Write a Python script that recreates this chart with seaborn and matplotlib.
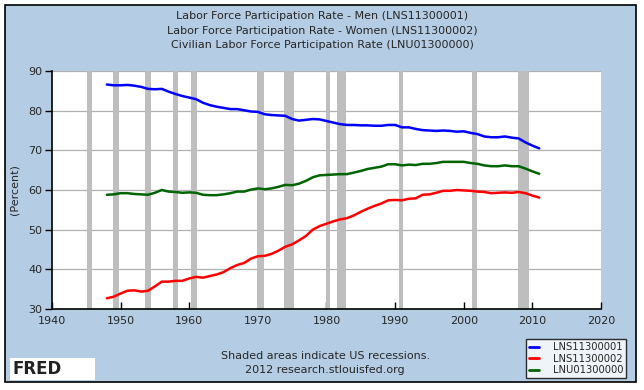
import numpy as np, pandas as pd
import seaborn as sns
import matplotlib.pyplot as plt
from matplotlib.patches import Rectangle
from matplotlib.lines import Line2D

sns.set_style("white")
plt.rcParams['font.family'] = ['DejaVu Sans']

# annual values
years = list(range(1948, 2012))
men = [86.6, 86.4, 86.4, 86.5, 86.3, 86.0, 85.5, 85.4, 85.5, 84.8,
       84.2, 83.7, 83.3, 82.9, 82.0, 81.4, 81.0, 80.7, 80.4, 80.4,
       80.1, 79.8, 79.7, 79.1, 78.9, 78.8, 78.7, 77.9, 77.5, 77.7,
       77.9, 77.8, 77.4, 77.0, 76.6, 76.4, 76.4, 76.3, 76.3, 76.2,
       76.2, 76.4, 76.4, 75.8, 75.8, 75.4, 75.1, 75.0, 74.9, 75.0,
       74.9, 74.7, 74.8, 74.4, 74.1, 73.5, 73.3, 73.3, 73.5, 73.2,
       73.0, 72.0, 71.2, 70.5]
women = [32.7, 33.1, 33.9, 34.6, 34.7, 34.4, 34.6, 35.7, 36.9, 36.9,
         37.1, 37.1, 37.7, 38.1, 37.9, 38.3, 38.7, 39.3, 40.3, 41.1,
         41.6, 42.7, 43.3, 43.4, 43.9, 44.7, 45.7, 46.3, 47.3, 48.4,
         50.0, 50.9, 51.5, 52.1, 52.6, 52.9, 53.6, 54.5, 55.3, 56.0,
         56.6, 57.4, 57.5, 57.4, 57.8, 57.9, 58.8, 58.9, 59.3, 59.8,
         59.8, 60.0, 59.9, 59.8, 59.6, 59.5, 59.2, 59.3, 59.4, 59.3,
         59.5, 59.2, 58.6, 58.1]
total = [58.8, 58.9, 59.2, 59.2, 59.0, 58.9, 58.8, 59.3, 60.0, 59.6,
         59.5, 59.3, 59.4, 59.3, 58.8, 58.7, 58.7, 58.9, 59.2, 59.6,
         59.6, 60.1, 60.4, 60.2, 60.4, 60.8, 61.3, 61.2, 61.6, 62.3,
         63.2, 63.7, 63.8, 63.9, 64.0, 64.0, 64.4, 64.8, 65.3, 65.6,
         65.9, 66.5, 66.5, 66.2, 66.4, 66.3, 66.6, 66.6, 66.8, 67.1,
         67.1, 67.1, 67.1, 66.8, 66.6, 66.2, 66.0, 66.0, 66.2, 66.0,
         66.0, 65.4, 64.7, 64.1]

series_names = ["LNS11300001", "LNS11300002", "LNU01300000"]
series_colors = ["#0000ff", "#ff0000", "#006400"]

# US recessions (start, end) as decimal years
rec_start = [1945.1, 1948.85, 1953.5, 1957.6, 1960.25, 1969.9, 1973.85, 1980.0, 1981.5, 1990.5, 2001.2, 2007.9]
rec_end = [1945.8, 1949.8, 1954.4, 1958.3, 1961.1, 1970.9, 1975.2, 1980.55, 1982.9, 1991.2, 2001.9, 2009.5]

df = pd.DataFrame({"year": years, series_names[0]: men,
                   series_names[1]: women, series_names[2]: total})
long = df.melt(id_vars="year", var_name="series", value_name="value")

fig = plt.figure(figsize=(6.44, 3.90), dpi=100)
fig.patch.set_facecolor("white")
bg = Rectangle((0.0085, 0.0205), 0.979, 0.966, transform=fig.transFigure,
               facecolor="#b4cde4", edgecolor="black", linewidth=1.2, zorder=-10)
fig.patches.append(bg)

ax = fig.add_axes([0.0807, 0.2077, 0.8525, 0.6102])
ax.set_facecolor("white")

for s, e in zip(rec_start, rec_end):
    ax.axvspan(s, e, color="#bebebe", lw=0, zorder=1)

sns.lineplot(data=long, x="year", y="value", hue="series",
             palette=series_colors, linewidth=1.8, legend=False, ax=ax, zorder=3)

ax.set_xlim(1940, 2020)
ax.set_ylim(30, 90)
ax.set_xticks(range(1940, 2021, 10))
ax.set_yticks(range(30, 91, 10))
ax.yaxis.grid(True, color="#b0b0b0", linewidth=0.9)
ax.set_axisbelow(True)
ax.tick_params(axis="x", direction="in", length=5, width=1, labelsize=8, pad=5, color="black")
ax.tick_params(axis="y", direction="out", length=5, width=1, labelsize=8, pad=2, color="black")
ax.tick_params(left=True, bottom=True)
for side in ["top", "right"]:
    ax.spines[side].set_visible(False)
for side in ["left", "bottom"]:
    ax.spines[side].set_color("black")
    ax.spines[side].set_linewidth(1.2)
ax.set_xlabel("")
ax.set_ylabel("(Percent)", fontsize=8, labelpad=6)

titles = ["Labor Force Participation Rate - Men (LNS11300001)",
          "Labor Force Participation Rate - Women (LNS11300002)",
          "Civilian Labor Force Participation Rate (LNU01300000)"]
for t, y in zip(titles, [0.958, 0.921, 0.884]):
    fig.text(0.5, y, t, ha="center", va="center", fontsize=8)

fig.text(0.505, 0.088, "Shaded areas indicate US recessions.", ha="center", va="center", fontsize=8)
fig.text(0.505, 0.052, "2012 research.stlouisfed.org", ha="center", va="center", fontsize=8)

# FRED badge
fig.patches.append(Rectangle((10 / 644, 1 - 380 / 390), 85 / 644, 22 / 390,
                             transform=fig.transFigure, facecolor="white",
                             edgecolor="none", zorder=-5))
fig.text(12 / 644, 1 - 369 / 390, "FRED", ha="left", va="center",
         fontsize=12, fontweight="bold", color="#222222")

handles = [Line2D([], [], color=c, linewidth=2) for c in series_colors]
leg = fig.legend(handles, series_names, loc="lower right",
                 bbox_to_anchor=(626 / 644, 1 - 378 / 390),
                 fontsize=7.2, frameon=True, fancybox=False,
                 handlelength=1.0, handletextpad=1.4, borderpad=0.3,
                 labelspacing=0.15, borderaxespad=0)
leg.get_frame().set_edgecolor("black")
leg.get_frame().set_linewidth(1)

fig.savefig("out.png", dpi=100)
